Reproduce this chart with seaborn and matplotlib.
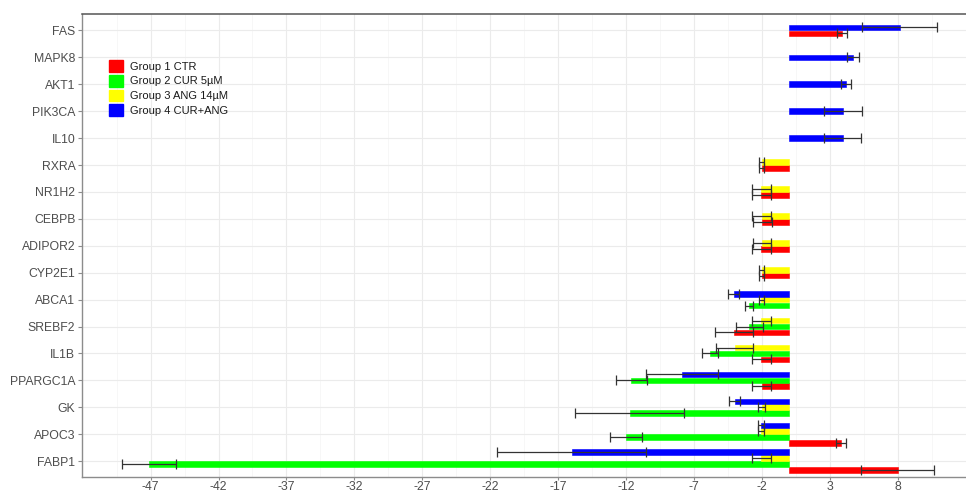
import matplotlib
matplotlib.use("Agg")
import matplotlib.pyplot as plt
from matplotlib.patches import Patch
import seaborn as sns
import pandas as pd
import numpy as np

# genes listed top to bottom
genes = ["FAS", "MAPK8", "AKT1", "PIK3CA", "IL10", "RXRA", "NR1H2", "CEBPB",
         "ADIPOR2", "CYP2E1", "ABCA1", "SREBF2", "IL1B", "PPARGC1A", "GK",
         "APOC3", "FABP1"]

group_names = ["Group 1 CTR", "Group 2 CUR 5\u00b5M", "Group 3 ANG 14\u00b5M", "Group 4 CUR+ANG"]
group_colors = ["#FF0000", "#00FF00", "#FFFF00", "#0000FF"]

nan = np.nan
# fold change per gene (nan = not shown)
g1_val = [3.9, nan, nan, nan, nan, -2.0, -2.05, -1.95, -2.05, -2.0, nan, -4.07, -2.02, -2.0, nan, 3.85, 8.0]
g1_sd = [0.37, nan, nan, nan, nan, 0.2, 0.7, 0.7, 0.7, 0.2, nan, 1.39, 0.68, 0.7, nan, 0.36, 2.7]

g2_val = [nan, nan, nan, nan, nan, nan, nan, nan, nan, nan, -2.95, -2.92, -5.82, -11.6, -11.73, -12.0, -47.1]
g2_sd = [nan, nan, nan, nan, nan, nan, nan, nan, nan, nan, 0.31, 1.0, 0.6, 1.16, 4.0, 1.17, 2.0]

g3_val = [nan, nan, nan, nan, nan, -2.0, -2.05, -2.0, -2.0, -2.0, -2.02, -2.04, -3.98, nan, -2.0, -2.03, -2.02]
g3_sd = [nan, nan, nan, nan, nan, 0.19, 0.7, 0.69, 0.68, 0.2, 0.18, 0.7, 1.36, nan, 0.25, 0.22, 0.68]

g4_val = [8.15, 4.72, 4.2, 4.0, 3.97, nan, nan, nan, nan, nan, -4.07, nan, nan, -7.88, -4.0, -2.03, -16.0]
g4_sd = [2.78, 0.46, 0.4, 1.4, 1.36, nan, nan, nan, nan, nan, 0.4, nan, nan, 2.67, 0.4, 0.22, 5.5]

x_ticks = list(range(-47, 9, 5))

sns.set_theme(style="whitegrid")
plt.rcParams['font.family'] = ['Liberation Sans', 'DejaVu Sans']
plt.rcParams['axes.unicode_minus'] = False

frames = []
for gi, (v, s) in enumerate([(g1_val, g1_sd), (g2_val, g2_sd), (g3_val, g3_sd), (g4_val, g4_sd)]):
    frames.append(pd.DataFrame({"gene": genes, "gidx": gi, "value": v, "sd": s}))
df = pd.concat(frames, ignore_index=True).dropna(subset=["value"])
df["row"] = df["gene"].map({g: i for i, g in enumerate(genes)})

# dodge like preserve="single": fixed bar height, present bars centred on the row
slot = 0.22
bar_h = 0.21
df = df.sort_values(["row", "gidx"], ascending=[True, False])
df["k"] = df.groupby("row").cumcount()
df["n"] = df.groupby("row")["gidx"].transform("count")
df["y"] = df["row"] + (df["k"] - (df["n"] - 1) / 2) * slot

fig = plt.figure(figsize=(9.66, 4.94), dpi=100)
ax = fig.add_axes([0.0852, 0.0338, 0.9148, 0.9373])

for gi in range(4):
    sub = df[df["gidx"] == gi]
    ax.barh(sub["y"], sub["value"], height=bar_h, color=group_colors[gi],
            edgecolor=group_colors[gi], linewidth=0.4, zorder=2)
ax.errorbar(df["value"], df["y"], xerr=df["sd"], fmt="none", ecolor="#333333",
            elinewidth=0.9, capsize=3.3, capthick=0.9, zorder=3)

ax.set_xlim(-52.03, 13.04)
ax.set_ylim(len(genes) - 1 + 0.6, -0.6)
ax.set_yticks(range(len(genes)))
ax.set_yticklabels(genes)
ax.set_xticks(x_ticks)
ax.set_xticks([t + 2.5 for t in [-52] + x_ticks], minor=True)
ax.set_xlabel("")
ax.set_ylabel("")

ax.set_facecolor("white")
ax.grid(True, which="major", color="#ebebeb", linewidth=0.8, zorder=0)
ax.grid(True, which="minor", axis="x", color="#f4f4f4", linewidth=0.5, zorder=0)
ax.set_axisbelow(True)

for side in ["left", "bottom"]:
    ax.spines[side].set_color("#8c8c8c")
    ax.spines[side].set_linewidth(1.0)
ax.spines["top"].set_color("#555555")
ax.spines["top"].set_linewidth(1.1)
ax.spines["right"].set_visible(False)

ax.tick_params(axis="both", which="major", length=3, width=0.8, color="#8c8c8c",
               labelsize=8.8, labelcolor="#4d4d4d", pad=2, left=True, bottom=True)
ax.tick_params(axis="x", which="major", length=2.5, pad=0.5)
ax.tick_params(axis="x", which="minor", length=0)

handles = [Patch(facecolor=c, edgecolor=c, label=n) for c, n in zip(group_colors, group_names)]
ax.legend(handles=handles, loc="upper left", bbox_to_anchor=(0.0302, 0.9015),
          frameon=False, fontsize=8, handlelength=1.26, handleheight=1.26,
          labelspacing=0.27, handletextpad=0.67, borderpad=0, borderaxespad=0,
          labelcolor="#1a1a1a")

fig.savefig("out.png", dpi=100)
plt.close(fig)
